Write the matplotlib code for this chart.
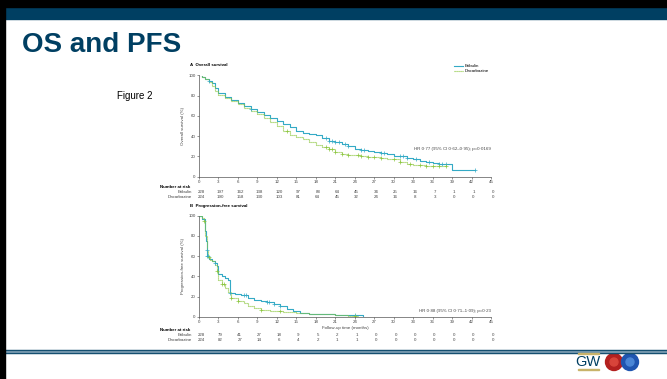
import numpy as np
import matplotlib
matplotlib.use("Agg")
import matplotlib.pyplot as plt
from matplotlib.patches import Rectangle, Circle
import matplotlib.transforms as mtransforms

plt.rcParams['font.family'] = ['Liberation Sans', 'DejaVu Sans']

# --- data ---
months = [0, 3, 6, 9, 12, 15, 18, 21, 24, 27, 30, 33, 36, 39, 42, 45]

os_eri_t = [0, 0.5, 1, 1.5, 2, 2.5, 3, 4, 5, 6, 7, 8, 9, 10, 11, 12, 13, 14, 15, 16, 17, 18, 19, 20,
            21, 22, 23, 24, 25, 26, 27, 28, 29, 30, 31, 32, 33, 34, 35, 36, 37, 38, 39, 42.5]
os_eri_s = [100, 99, 97, 95, 93, 88, 83, 79, 76, 73, 70, 67, 64, 61, 58, 55, 52, 49, 45, 43.5, 42.5, 41.5, 38, 35.5,
            34, 32, 30, 27.5, 26, 25, 24, 23, 22, 20.5, 20, 18.5, 17, 16, 15, 14, 13, 12.5, 6.5, 6.5]
os_dac_t = [0, 0.5, 1, 1.5, 2, 2.5, 3, 4, 5, 6, 7, 8, 9, 10, 11, 12, 13, 14, 15, 16, 17, 18, 19, 20,
            21, 22, 23, 24, 25, 26, 27, 28, 29, 30, 31, 32, 33, 35, 37, 38]
os_dac_s = [100, 99, 97, 94, 90, 85, 81, 78, 75, 72, 68, 65, 62, 58, 54, 50, 45, 41, 39.5, 37, 34, 31.5, 29, 27,
            24, 22, 21.5, 21, 20, 19.5, 19, 18, 17.5, 17, 15, 13, 11.5, 11, 11, 11]
os_eri_cens = [1.5, 8, 19.5, 20, 20.5, 21, 21.5, 22.5, 23, 25, 25.5, 28, 28.5, 31, 31.5, 32, 33.5,
               35.5, 37, 37.5, 38, 42.5]
os_dac_cens = [13.5, 19.5, 20, 20.5, 21, 22, 23, 24.5, 25, 26, 27, 28, 30, 31, 32.5, 34, 35, 36, 37, 38]

pfs_eri_t = [0, 0.5, 0.9, 1.0, 1.1, 1.2, 1.3, 1.5, 2, 2.5, 2.7, 3, 3.5, 4, 4.5, 4.8, 5.5, 6.5, 7.5, 8.5,
             9.5, 10.5, 11.5, 12.5, 13.5, 14.5, 15.5, 17, 19, 21, 23, 25.2]
pfs_eri_s = [100, 97, 94, 85, 75, 66, 60, 57, 55, 53, 50, 42, 40, 38, 36, 23, 22, 21, 19, 17,
             16, 15, 13, 11, 8, 6, 4, 3, 2.5, 2, 1.5, 0]
pfs_dac_t = [0, 0.4, 0.7, 1.0, 1.2, 1.4, 1.7, 2, 2.5, 2.7, 3, 3.5, 4, 4.5, 5, 6, 7, 7.5, 8.5, 9.5,
             11, 13, 15, 17, 19, 21, 23, 24.5]
pfs_dac_s = [100, 98, 95, 80, 65, 59, 56, 55, 51, 45, 36, 32, 28, 24, 19, 16, 14, 11, 9, 7,
             6, 5, 4, 3, 2.5, 2, 1, 1]
pfs_eri_cens = [1.2, 1.3, 1.4, 2.5, 4.8, 7, 7.2, 10.5, 10.8, 11.5, 12.5, 24]
pfs_dac_cens = [0.7, 1.5, 2.7, 3.5, 3.8, 5, 6, 9.5, 12.5, 24]

os_risk_eri = [228, 197, 162, 138, 120, 97, 88, 64, 45, 34, 25, 16, 7, 1, 1, 0]
os_risk_dac = [224, 190, 158, 130, 103, 81, 64, 45, 32, 24, 16, 8, 3, 0, 0, 0]
pfs_risk_eri = [228, 79, 41, 27, 18, 9, 5, 2, 1, 0, 0, 0, 0, 0, 0, 0]
pfs_risk_dac = [224, 82, 27, 14, 6, 4, 2, 1, 1, 0, 0, 0, 0, 0, 0, 0]

teal = '#34aac6'
green = '#8cc63f'
navy = '#003f62'

W, H = 667, 379
fig = plt.figure(figsize=(W / 100, H / 100), dpi=100)
fig.patch.set_facecolor('white')


def box(x0, y0, x1, y1):
    # pixel box -> figure fraction rect
    return [x0 / W, 1 - y1 / H, (x1 - x0) / W, (y1 - y0) / H]


# slide decoration
fig.add_artist(Rectangle((0, 1 - 7 / H), 1, 7 / H, transform=fig.transFigure, color='black', zorder=5))
fig.add_artist(Rectangle((0, 0), 5 / W, 1, transform=fig.transFigure, color='black', zorder=5))
fig.add_artist(Rectangle((5 / W, 1 - 19 / H), 1, 11 / H, transform=fig.transFigure, color=navy))
fig.add_artist(Rectangle((5 / W, 1 - 353 / H), 1, 3 / H, transform=fig.transFigure, color=navy))
fig.add_artist(Rectangle((5 / W, 1 - 351.5 / H), 1, 0.8 / H, transform=fig.transFigure, color='#6f93aa'))
fig.text(22 / W, 1 - 45 / H, 'OS and PFS', fontsize=20, fontweight='bold', color=navy, va='center')
fig.text(117 / W, 1 - 96 / H, 'Figure 2', fontsize=7, va='center')

# GW logo
fig.text(588 / W, 1 - 362 / H, 'GW', fontsize=10.5, color=navy, ha='center', va='center')
fig.add_artist(Rectangle((578 / W, 1 - 354 / H), 21 / W, 1 / H, transform=fig.transFigure, color='#c8b36a'))
fig.add_artist(Rectangle((578 / W, 1 - 370 / H), 21 / W, 1 / H, transform=fig.transFigure, color='#c8b36a'))
logo = fig.add_axes(box(600, 352, 646, 372))
logo.set_xlim(0, 46)
logo.set_ylim(0, 20)
logo.set_aspect('equal')
logo.axis('off')
logo.add_patch(Circle((14, 10), 8.5, color='#b3201f'))
logo.add_patch(Circle((14, 10), 4, color='#d8443a'))
logo.add_patch(Circle((30, 10), 8.5, color='#1f55b0'))
logo.add_patch(Circle((30, 10), 4, color='#4a86d6'))

fs = 3.2


def step_at(t, s, x):
    i = np.searchsorted(t, x, side='right') - 1
    return np.asarray(s)[i]


def km_panel(rect, eri_t, eri_s, dac_t, dac_s, eri_c, dac_c, ylabel, hr, hr_y, title, xlabel):
    ax = fig.add_axes(rect)
    ax.step(eri_t, eri_s, where='post', color=teal, lw=0.8)
    ax.step(dac_t, dac_s, where='post', color=green, lw=0.8, ls=(0, (1, 0.8)))
    ax.plot(eri_c, step_at(eri_t, eri_s, eri_c), '+', color=teal, ms=2.5, mew=0.5)
    ax.plot(dac_c, step_at(dac_t, dac_s, dac_c), '+', color=green, ms=2.5, mew=0.5)
    ax.set_xlim(0, 45)
    ax.set_ylim(0, 100)
    ax.set_xticks(months)
    ax.set_yticks([0, 20, 40, 60, 80, 100])
    for sp in ['top', 'right']:
        ax.spines[sp].set_visible(False)
    for sp in ['left', 'bottom']:
        ax.spines[sp].set_color('#555555')
        ax.spines[sp].set_linewidth(0.5)
    ax.tick_params(labelsize=fs, length=1.5, width=0.4, pad=1, colors='#444444')
    ax.set_ylabel(ylabel, fontsize=fs, labelpad=2, color='#444444')
    if xlabel:
        ax.set_xlabel(xlabel, fontsize=fs, labelpad=1, color='#444444')
    ax.text(45, hr_y, hr, fontsize=fs, ha='right', va='center', color='#444444')
    ax.text(-0.03, 1.1, title, transform=ax.transAxes, fontsize=fs, ha='left', va='center', fontweight='bold')
    ax.patch.set_alpha(0)
    return ax


ax1 = km_panel(box(199, 75.5, 491, 176.7), os_eri_t, os_eri_s, os_dac_t, os_dac_s,
               os_eri_cens, os_dac_cens, 'Overall survival (%)',
               'HR 0·77 (95% CI 0·62–0·95); p=0·0169', 27, 'A  Overall survival', None)
ax2 = km_panel(box(199, 215.7, 491, 316.7), pfs_eri_t, pfs_eri_s, pfs_dac_t, pfs_dac_s,
               pfs_eri_cens, pfs_dac_cens, 'Progression-free survival (%)',
               'HR 0·88 (95% CI 0·71–1·09); p=0·23', 6, 'B  Progression-free survival',
               'Follow-up time (months)')

# legend
ax1.plot([], [], color=teal, lw=0.8, label='Eribulin')
ax1.plot([], [], color=green, lw=0.8, ls=(0, (1, 0.8)), label='Dacarbazine')
ax1.legend(loc='upper right', bbox_to_anchor=(1.0, 1.13), frameon=False, fontsize=fs,
           handlelength=2, handletextpad=0.5, labelspacing=0.2, borderaxespad=0)


def risk_table(ax, risk_e, risk_d, y_head, y_e, y_d):
    tr = mtransforms.blended_transform_factory(ax.transData, fig.transFigure)
    fig.text(160 / W, 1 - y_head / H, 'Number at risk', fontsize=fs, fontweight='bold', va='center')
    fig.text(192 / W, 1 - y_e / H, 'Eribulin', fontsize=fs, ha='right', va='center', color='#444444')
    fig.text(192 / W, 1 - y_d / H, 'Dacarbazine', fontsize=fs, ha='right', va='center', color='#444444')
    for m, e, d in zip(months, risk_e, risk_d):
        ax.text(m + 0.3, 1 - y_e / H, str(e), transform=tr, fontsize=fs, ha='center', va='center', color='#444444')
        ax.text(m + 0.3, 1 - y_d / H, str(d), transform=tr, fontsize=fs, ha='center', va='center', color='#444444')


risk_table(ax1, os_risk_eri, os_risk_dac, 187, 192, 197)
risk_table(ax2, pfs_risk_eri, pfs_risk_dac, 330, 334.5, 340)

fig.savefig('out.png', dpi=100)
